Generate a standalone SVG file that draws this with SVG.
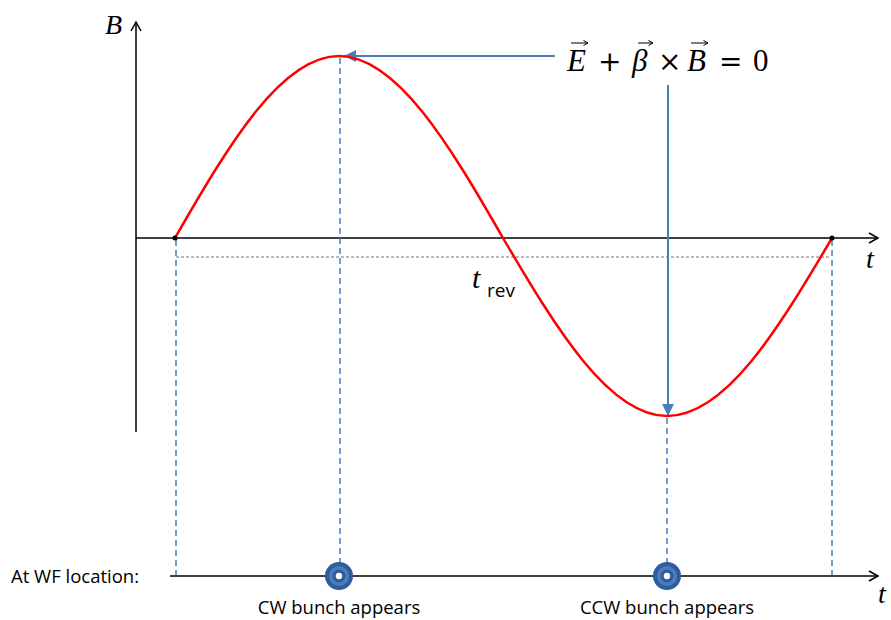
<svg xmlns="http://www.w3.org/2000/svg" width="891" height="620" viewBox="0 0 891 620">
<defs>
<marker id="open" markerWidth="12" markerHeight="12" refX="10" refY="6" orient="auto" markerUnits="userSpaceOnUse"><path d="M1,1 L10,6 L1,11" fill="none" stroke="#000" stroke-width="1.5"/></marker>
<marker id="blue" markerWidth="14" markerHeight="14" refX="12" refY="7" orient="auto" markerUnits="userSpaceOnUse"><path d="M0,1 L12,7 L0,13 Z" fill="#4a7ebb"/></marker>
<marker id="vec" markerWidth="6" markerHeight="6" refX="5" refY="3" orient="auto" markerUnits="userSpaceOnUse"><path d="M0.5,0.5 L5,3 L0.5,5.5" fill="none" stroke="#000" stroke-width="1"/></marker>
</defs>
<style>
.ax{stroke:#000;stroke-width:1.5;fill:none}
.dash{stroke:#4a7ebb;stroke-width:1.5;stroke-dasharray:6,4;fill:none}
.sym{font-family:"Liberation Serif",serif;font-style:italic;fill:#000}
.lbl{font-family:"Open Sans","Liberation Sans",sans-serif;font-size:18.5px;fill:#000}
.eq{font-family:"Liberation Serif",serif;font-size:31px;fill:#000}
.op{font-family:"DejaVu Serif",serif;font-size:28px;fill:#000}
.va{stroke:#000;stroke-width:1;fill:none}
</style>
<rect width="891" height="620" fill="#fff"/>
<g id="axes">
<line class="ax" x1="136" y1="432" x2="136" y2="22" marker-end="url(#open)"/>
<line class="ax" x1="136" y1="238" x2="878" y2="238" marker-end="url(#open)"/>
<line class="ax" x1="170" y1="576" x2="878" y2="576" marker-end="url(#open)" stroke-width="2"/>
<text class="sym" x="105" y="34" font-size="28">B</text>
<text class="sym" x="866" y="268" font-size="28">t</text>
<text class="sym" x="878" y="603" font-size="28">t</text>
</g>
<g id="connectors">
<line class="dash" x1="176" y1="240" x2="176" y2="575"/>
<line class="dash" x1="340" y1="58" x2="340" y2="575"/>
<line class="dash" x1="667" y1="418" x2="667" y2="575"/>
<line class="dash" x1="832" y1="240" x2="832" y2="575"/>
<line x1="176" y1="257" x2="830" y2="257" stroke="#777" stroke-width="1" stroke-dasharray="3,2"/>
<line x1="555" y1="56" x2="344" y2="56" stroke="#4a7ebb" stroke-width="2" marker-end="url(#blue)"/>
<line x1="668" y1="85" x2="668" y2="416" stroke="#4a7ebb" stroke-width="2" marker-end="url(#blue)"/>
</g>
<g id="curve">
<path d="M175,238 C228.5,144.8 281.4,56 339,56 C396.6,56 449.5,144.8 503,238 C556.5,329.2 609.4,416 667,416 C725.6,416 778.2,329.2 832,238" fill="none" stroke="#ff0000" stroke-width="2.5"/>
<circle cx="175" cy="238" r="2.5" fill="#000"/>
<circle cx="832" cy="238" r="2.5" fill="#000"/>
</g>
<g id="trev">
<text class="sym" x="472" y="288" font-size="30">t</text>
<text x="487" y="297" font-family="Open Sans,Liberation Sans,sans-serif" font-size="19" fill="#000">rev</text>
</g>
<g id="equation">
<text class="eq" font-style="italic" x="567" y="71">E</text>
<text class="op" x="598" y="71">+</text>
<text class="eq" font-style="italic" x="632" y="71">β</text>
<text class="op" x="658" y="71">×</text>
<text class="eq" font-style="italic" x="687" y="71">B</text>
<text class="op" x="719" y="71">=</text>
<text class="eq" x="753" y="71">0</text>
<line class="va" x1="571" y1="43" x2="588" y2="43" marker-end="url(#vec)"/>
<line class="va" x1="638" y1="43" x2="653" y2="43" marker-end="url(#vec)"/>
<line class="va" x1="691" y1="43" x2="708" y2="43" marker-end="url(#vec)"/>
</g>
<g id="wf-label"><text class="lbl" x="11" y="583">At WF location:</text></g>
<g id="cw-bunch">
<circle cx="339" cy="576" r="14" fill="#2f5c9e"/>
<circle cx="339" cy="576" r="10" fill="#4a7ebb"/>
<circle cx="339" cy="576" r="6.5" fill="#2f5c9e"/>
<circle cx="339" cy="576" r="3.2" fill="#fff"/>
<text class="lbl" x="339" y="614" text-anchor="middle">CW bunch appears</text>
</g>
<g id="ccw-bunch">
<circle cx="667" cy="576" r="14" fill="#2f5c9e"/>
<circle cx="667" cy="576" r="10" fill="#4a7ebb"/>
<circle cx="667" cy="576" r="6.5" fill="#2f5c9e"/>
<circle cx="667" cy="576" r="3.2" fill="#fff"/>
<text class="lbl" x="667" y="614" text-anchor="middle">CCW bunch appears</text>
</g>
</svg>
